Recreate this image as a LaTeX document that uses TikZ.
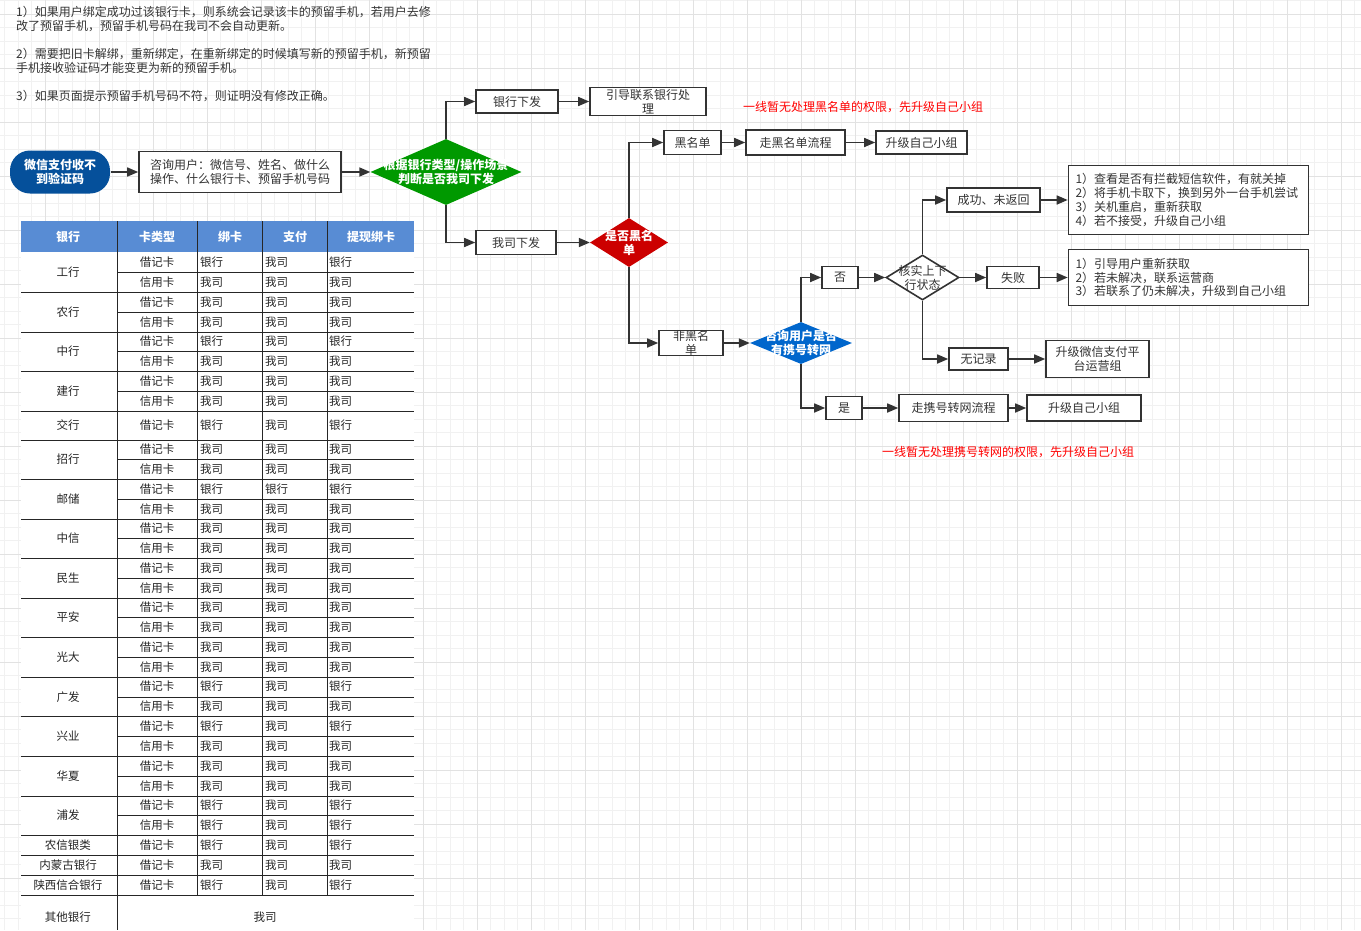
\documentclass[tikz,border=0pt]{standalone}
\usepackage{fontspec}
\setmainfont{Noto Sans CJK SC}
\usepackage{tikz}
\usetikzlibrary{arrows.meta,shapes.geometric,positioning}
\definecolor{txtgray}{RGB}{51,51,51}
\definecolor{linegray}{RGB}{51,51,51}
\definecolor{startblue}{RGB}{5,80,155}
\definecolor{hdrblue}{RGB}{88,140,212}
\definecolor{decgreen}{RGB}{0,153,0}
\definecolor{decred}{RGB}{204,0,0}
\definecolor{decblue}{RGB}{0,102,204}
\definecolor{gridminor}{RGB}{241,241,241}
\definecolor{gridmajor}{RGB}{226,226,226}
\tikzstyle{minorgrid}=[draw=gridminor,line width=1pt]
\tikzstyle{majorgrid}=[draw=gridmajor,line width=1pt]
\tikzstyle{box}=[draw=linegray,line width=1.6pt,fill=white,text=txtgray,font=\fontsize{12}{14}\selectfont,inner xsep=2pt,inner ysep=0pt,align=center]
\tikzstyle{startnode}=[box,draw=none,fill=startblue,text=white,font=\bfseries\fontsize{12}{14}\selectfont,rounded corners=20pt]
\tikzstyle{decision}=[diamond,draw=none,inner sep=0pt]
\tikzstyle{dectext}=[text=white,font=\bfseries\fontsize{12}{14}\selectfont,align=center,inner sep=0pt]
\tikzstyle{edge}=[draw=linegray,line width=1.6pt,-{Triangle[length=11pt,width=9pt]}]
\tikzstyle{cell}=[inner sep=0pt,text=black!85,font=\fontsize{11.5}{13}\selectfont]
\tikzstyle{tabline}=[draw=black!85,line width=1pt]
\tikzstyle{rednote}=[inner sep=0pt,text=red,font=\fontsize{12}{14}\selectfont]

\begin{document}
\begin{tikzpicture}[x=1pt,y=-1pt]
    % Background with grid
    \fill[white] (0,0) rectangle (1361,930);
    \useasboundingbox (0,0) rectangle (1361,930);
    \foreach \gx in {-8.7,4.8,...,1361} \draw[minorgrid] (\gx,0) -- (\gx,930);
    \foreach \gy in {0.8,14.3,...,930} \draw[minorgrid] (0,\gy) -- (1361,\gy);
    \foreach \gx in {-8.7,45.3,...,1361} \draw[majorgrid] (\gx,0) -- (\gx,930);
    \foreach \gy in {14.3,68.3,...,930} \draw[majorgrid] (0,\gy) -- (1361,\gy);

    % Notes at the top left
    \node[anchor=north west,inner sep=0pt,align=left,text=txtgray,font=\fontsize{12}{14}\selectfont] (tips) at (16,6)
        {1）如果用户绑定成功过该银行卡，则系统会记录该卡的预留手机，若用户去修\\改了预留手机，预留手机号码在我司不会自动更新。\\[14pt]2）需要把旧卡解绑，重新绑定，在重新绑定的时候填写新的预留手机，新预留\\手机接收验证码才能变更为新的预留手机。\\[14pt]3）如果页面提示预留手机号码不符，则证明没有修改正确。};

    % Draw the table
    \fill[white] (21,252) rectangle (414,930);
    \fill[hdrblue] (21,221) rectangle (414,252);
    \foreach \x/\name/\txt in {68/h1/银行, 157/h2/卡类型, 230/h3/绑卡, 295/h4/支付, 371/h5/提现绑卡}
        \node[cell,text=white,font=\bfseries\fontsize{12}{14}\selectfont] (\name) at (\x,236.5) {\txt};
    \foreach \n/\y/\ka/\bd/\zf/\tx in {1/262/借记卡/银行/我司/银行, 2/282/信用卡/我司/我司/我司,
        3/302/借记卡/我司/我司/我司, 4/322/信用卡/我司/我司/我司,
        5/341.5/借记卡/银行/我司/银行, 6/361/信用卡/我司/我司/我司,
        7/381/借记卡/我司/我司/我司, 8/401/信用卡/我司/我司/我司,
        9/425.5/借记卡/银行/我司/银行,
        10/449.5/借记卡/我司/我司/我司, 11/469/信用卡/我司/我司/我司,
        12/489/借记卡/银行/银行/银行, 13/509/信用卡/我司/我司/我司,
        14/528.5/借记卡/我司/我司/我司, 15/548/信用卡/我司/我司/我司,
        16/568/借记卡/我司/我司/我司, 17/588/信用卡/我司/我司/我司,
        18/607.5/借记卡/我司/我司/我司, 19/627/信用卡/我司/我司/我司,
        20/647/借记卡/我司/我司/我司, 21/667/信用卡/我司/我司/我司,
        22/686.5/借记卡/银行/我司/银行, 23/706/信用卡/我司/我司/我司,
        24/726/借记卡/银行/我司/银行, 25/746/信用卡/我司/我司/我司,
        26/766/借记卡/我司/我司/我司, 27/786/信用卡/我司/我司/我司,
        28/805.5/借记卡/银行/我司/银行, 29/825/信用卡/银行/我司/银行,
        30/845/借记卡/银行/我司/银行, 31/865/借记卡/我司/我司/我司, 32/885/借记卡/银行/我司/银行}
    {
        \node[cell] (ka\n) at (157,\y) {\ka};
        \node[cell,anchor=west] (bd\n) at (200,\y) {\bd};
        \node[cell,anchor=west] (zf\n) at (265,\y) {\zf};
        \node[cell,anchor=west] (tx\n) at (329,\y) {\tx};
    }
    \foreach \n/\y/\bank in {1/272/工行, 2/312/农行, 3/351/中行, 4/391/建行, 5/425.5/交行, 6/459/招行,
        7/499/邮储, 8/538/中信, 9/578/民生, 10/617/平安, 11/657/光大, 12/697/广发, 13/736/兴业,
        14/776/华夏, 15/815/浦发, 16/845/农信银类, 17/865/内蒙古银行, 18/885/陕西信合银行, 19/917/其他银行}
        \node[cell] (bank\n) at (68,\y) {\bank};
    \node[cell] (qtws) at (265,917) {我司};
    \foreach \y in {292,332,371,411,440,479,519,558,598,637,677,716,756,796,835,855,875,895}
        \draw[tabline] (21,\y) -- (414,\y);
    \foreach \y in {272,312,351,391,459,499,538,578,617,657,697,736,776,815}
        \draw[tabline] (117,\y) -- (414,\y);
    \draw[tabline] (117,221) -- (117,930);
    \foreach \x in {197,262,327}
        \draw[tabline] (\x,221) -- (\x,895);

    % First we draw the flow nodes
    \node[startnode,minimum width=100pt,minimum height=43pt] (wxzf) at (60,172) {微信支付收不\\到验证码};
    \node[box,minimum width=202pt,minimum height=41pt] (zxyh) at (240,172) {咨询用户：微信号、姓名、做什么\\操作、什么银行卡、预留手机号码};
    \foreach \pos/\name/\w/\h/\txt in {{(517,101.5)/yhxf/82/23/银行下发}, {(648,101.5)/yddl/116/28/引导联系银行处\\理},
        {(516,242.5)/wsxf/80/24/我司下发}, {(692.5,142.5)/hmd/57/24/黑名单}, {(795.5,142.5)/zhmd/99/25/走黑名单流程},
        {(921.5,142.5)/sjxz1/91/23/升级自己小组}, {(691,343)/fhmd/64/25/非黑名\\单}, {(840,277.5)/fou/36/22/否},
        {(993.5,200)/cgwfh/93/24/成功、未返回}, {(1013,277.5)/sb/52/22/失败}, {(978.5,359)/wjl/59/22/无记录},
        {(1097.5,359)/sjwx/103/37/升级微信支付平\\台运营组}, {(844,408)/shi/36/23/是},
        {(953.5,408)/zxhzw/109/27/走携号转网流程}, {(1084,408)/sjxz2/114/26/升级自己小组}}
        \node[box,minimum width=\w pt,minimum height=\h pt] (\name) at \pos {\txt};
    \node[box,align=left,text width=226pt,inner xsep=7pt,minimum height=69pt] (tip1) at (1188.5,200)
        {1）查看是否有拦截短信软件，有就关掉\\2）将手机卡取下，换到另外一台手机尝试\\3）关机重启，重新获取\\4）若不接受，升级自己小组};
    \node[box,align=left,text width=226pt,inner xsep=7pt,minimum height=56pt] (tip2) at (1188.5,277.5)
        {1）引导用户重新获取\\2）若未解决，联系运营商\\3）若联系了仍未解决，升级到自己小组};

    % Decisions
    \node[decision,fill=decgreen,minimum width=151pt,minimum height=66pt] (gdec) at (446,172) {};
    \node[dectext] (gdec-t) at (gdec) {根据银行类型/操作场景\\判断是否我司下发};
    \node[decision,fill=decred,minimum width=78pt,minimum height=49pt] (rdec) at (629,242.5) {};
    \node[dectext] (rdec-t) at (rdec) {是否黑名\\单};
    \node[decision,fill=decblue,minimum width=102pt,minimum height=42pt] (bdec) at (801,343) {};
    \node[dectext] (bdec-t) at (bdec) {咨询用户是否\\有携号转网};
    \node[decision,draw=linegray,line width=1.6pt,fill=white,minimum width=73pt,minimum height=45pt] (wdec) at (922.5,277.5) {};
    \node[dectext,text=txtgray,font=\fontsize{12}{14}\selectfont] (wdec-t) at (wdec) {核实上下\\行状态};

    % Red remarks
    \node[rednote] (rn1) at (863,107) {一线暂无处理黑名单的权限，先升级自己小组};
    \node[rednote] (rn2) at (1008,452.5) {一线暂无处理携号转网的权限，先升级自己小组};

    % Connect nodes with edges
    \foreach \source/\dest in {wxzf/zxyh, zxyh/gdec, yhxf/yddl, wsxf/rdec, hmd/zhmd, zhmd/sjxz1, fhmd/bdec,
        fou/wdec, wdec/sb, sb/tip2, cgwfh/tip1, wjl/sjwx, shi/zxhzw, zxhzw/sjxz2}
        \path[edge] (\source) -- (\dest);
    \foreach \source/\dest in {gdec/yhxf, gdec/wsxf, rdec/hmd, rdec/fhmd, bdec/fou, bdec/shi, wdec/cgwfh, wdec/wjl}
        \path[edge] (\source) |- (\dest);
\end{tikzpicture}
\end{document}
